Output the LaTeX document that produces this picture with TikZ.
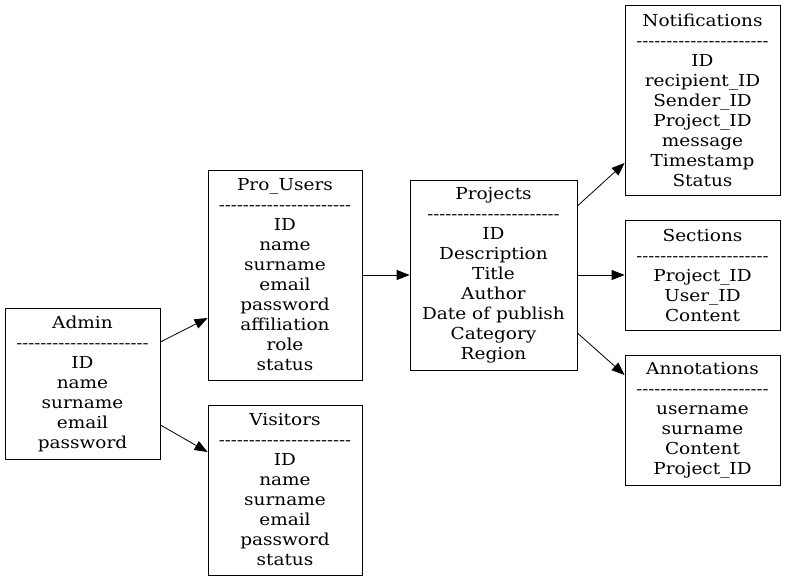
\documentclass[tikz,border=0pt]{standalone}
\usepackage{fontspec}
\setmainfont{DejaVu Serif}[FakeStretch=1.12]
\usetikzlibrary{arrows.meta}
\newcommand\dashrule{{\fontsize{15.9}{20}\selectfont -{}-{}-{}-{}-{}-{}-{}-{}-{}-{}-{}-{}-{}-{}-{}-{}-{}-{}-{}-{}-{}-}}
\begin{document}
\begin{tikzpicture}[x=1pt,y=-1pt,
  entity/.style={draw=black,line width=0.8pt,align=center,inner sep=0pt,
    font=\fontsize{16.5}{20}\selectfont},
  link/.style={line width=0.8pt,-{Triangle[length=13pt,width=10pt]}}]
\useasboundingbox[fill=white] (0,0) rectangle (785,581);
\node[entity,minimum width=155pt,minimum height=151pt] (admin) at (82.5,383.5)
  {Admin\\\dashrule\\ID\\name\\surname\\email\\password};
\node[entity,minimum width=154pt,minimum height=210pt] (pro) at (285,275)
  {Pro\_Users\\\dashrule\\ID\\name\\surname\\email\\password\\affiliation\\role\\status};
\node[entity,minimum width=154pt,minimum height=170pt] (vis) at (285,490)
  {Visitors\\\dashrule\\ID\\name\\surname\\email\\password\\status};
\node[entity,minimum width=167pt,minimum height=190pt] (proj) at (493.5,275)
  {Projects\\\dashrule\\ID\\Description\\Title\\Author\\Date of publish\\Category\\Region};
\node[entity,minimum width=155pt,minimum height=190pt] (notif) at (702.5,100)
  {Notifications\\\dashrule\\ID\\recipient\_ID\\Sender\_ID\\Project\_ID\\message\\Timestamp\\Status};
\node[entity,minimum width=155pt,minimum height=110pt] (sect) at (702.5,275)
  {Sections\\\dashrule\\Project\_ID\\User\_ID\\Content};
\node[entity,minimum width=155pt,minimum height=130pt] (annot) at (702.5,420)
  {Annotations\\\dashrule\\username\\surname\\Content\\Project\_ID};
\draw[link] ([yshift=41.5pt]admin.east) -- ([yshift=-43pt]pro.west);
\draw[link] ([yshift=-41.5pt]admin.east) -- ([yshift=38pt]vis.west);
\draw[link] (pro.east) -- (proj.west);
\draw[link] ([yshift=69pt]proj.east) -- ([yshift=-63pt]notif.west);
\draw[link] (proj.east) -- (sect.west);
\draw[link] ([yshift=-58pt]proj.east) -- ([yshift=45pt]annot.west);
\end{tikzpicture}
\end{document}
